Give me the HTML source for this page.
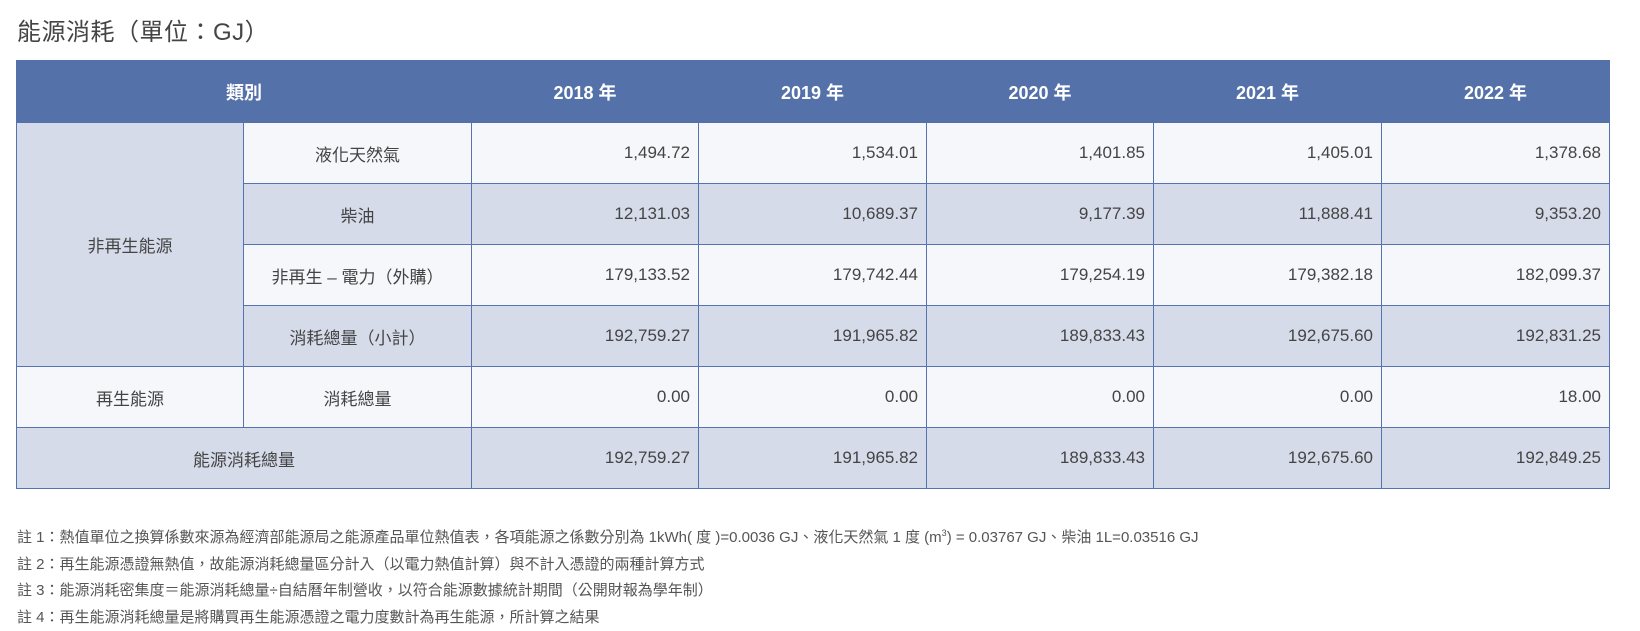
<!DOCTYPE html>
<html><head><meta charset="utf-8">
<style>
body{margin:0;width:1640px;height:631px;background:#fff;font-family:"Liberation Sans","Noto Sans CJK TC",sans-serif;color:#444;position:relative;overflow:hidden}
h1{position:absolute;left:17px;top:12px;margin:0;font-size:24px;font-weight:normal;color:#444;letter-spacing:0.5px}
table{position:absolute;left:16px;top:60px;border-collapse:collapse;table-layout:fixed;width:1593px}
td,th{border:1px solid #5573b0;font-size:17px;height:60px;padding:0}
th{background:#5471a9;color:#fff;font-weight:bold;font-size:18px;height:61px;border-color:#5471a9}
td.num{text-align:right;padding-right:8px}
td.lab{text-align:center}
tr.l td{background:#f5f7fb}
tr.d td{background:#d6dbea}
td.cat{background:#d6dbea!important;text-align:center}
td.cat2{background:#f5f7fb!important;text-align:center}
.notes{position:absolute;left:17px;top:520px;font-size:15px;line-height:26.5px;color:#555}
</style></head><body>
<h1>能源消耗（單位：GJ）</h1>
<table>
<colgroup><col style="width:227px"><col style="width:228px"><col style="width:227px"><col style="width:228px"><col style="width:227px"><col style="width:228px"><col style="width:228px"></colgroup>
<tr><th colspan="2">類別</th><th>2018 年</th><th>2019 年</th><th>2020 年</th><th>2021 年</th><th>2022 年</th></tr>
<tr class="l"><td class="cat" rowspan="4">非再生能源</td><td class="lab">液化天然氣</td><td class="num">1,494.72</td><td class="num">1,534.01</td><td class="num">1,401.85</td><td class="num">1,405.01</td><td class="num">1,378.68</td></tr>
<tr class="d"><td class="lab">柴油</td><td class="num">12,131.03</td><td class="num">10,689.37</td><td class="num">9,177.39</td><td class="num">11,888.41</td><td class="num">9,353.20</td></tr>
<tr class="l"><td class="lab">非再生 – 電力（外購）</td><td class="num">179,133.52</td><td class="num">179,742.44</td><td class="num">179,254.19</td><td class="num">179,382.18</td><td class="num">182,099.37</td></tr>
<tr class="d"><td class="lab">消耗總量（小計）</td><td class="num">192,759.27</td><td class="num">191,965.82</td><td class="num">189,833.43</td><td class="num">192,675.60</td><td class="num">192,831.25</td></tr>
<tr class="l"><td class="cat2">再生能源</td><td class="lab">消耗總量</td><td class="num">0.00</td><td class="num">0.00</td><td class="num">0.00</td><td class="num">0.00</td><td class="num">18.00</td></tr>
<tr class="d"><td class="lab" colspan="2">能源消耗總量</td><td class="num">192,759.27</td><td class="num">191,965.82</td><td class="num">189,833.43</td><td class="num">192,675.60</td><td class="num">192,849.25</td></tr>
</table>
<div class="notes">
<div>註 1：熱值單位之換算係數來源為經濟部能源局之能源產品單位熱值表，各項能源之係數分別為 1kWh( 度 )=0.0036 GJ、液化天然氣 1 度 (m<sup style="font-size:9px">3</sup>) = 0.03767 GJ、柴油 1L=0.03516 GJ</div>
<div>註 2：再生能源憑證無熱值，故能源消耗總量區分計入（以電力熱值計算）與不計入憑證的兩種計算方式</div>
<div>註 3：能源消耗密集度＝能源消耗總量÷自結曆年制營收，以符合能源數據統計期間（公開財報為學年制）</div>
<div>註 4：再生能源消耗總量是將購買再生能源憑證之電力度數計為再生能源，所計算之結果</div>
</div>
</body></html>
